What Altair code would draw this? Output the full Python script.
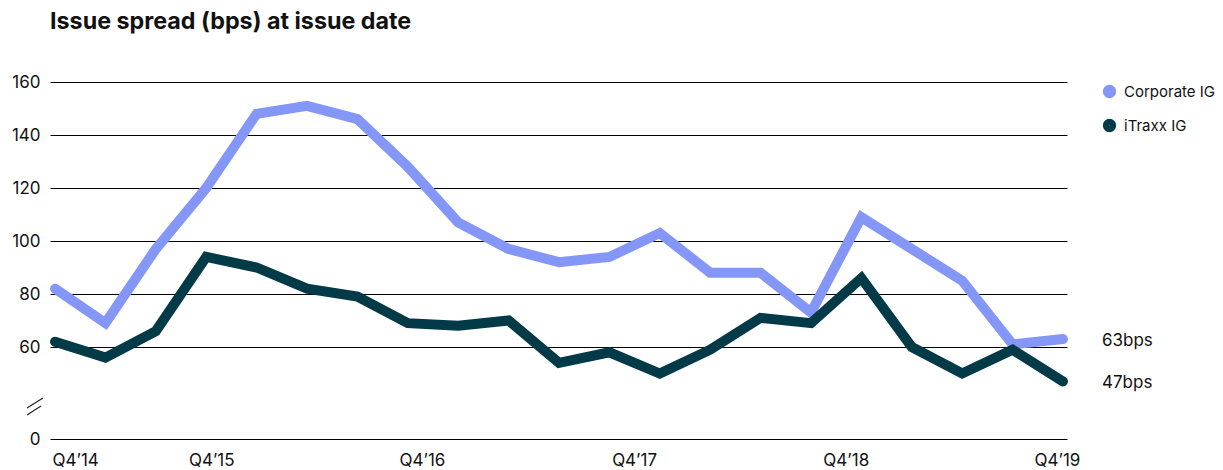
import json
import altair as alt
import pandas as pd

quarters = ["Q4’14", "Q1’15", "Q2’15", "Q3’15", "Q4’15", "Q1’16", "Q2’16", "Q3’16",
            "Q4’16", "Q1’17", "Q2’17", "Q3’17", "Q4’17", "Q1’18", "Q2’18", "Q3’18",
            "Q4’18", "Q1’19", "Q2’19", "Q3’19", "Q4’19"]
corporate_ig = [82, 69, 97, 120, 148, 151, 146, 128, 107, 97, 92, 94, 103, 88, 88, 73,
                109, 97, 85, 61, 63]
itraxx_ig = [62, 56, 66, 94, 90, 82, 79, 69, 68, 70, 54, 58, 50, 59, 71, 69,
             86, 60, 50, 59, 47]
series_names = ["Corporate IG", "iTraxx IG"]
x_tick_labels = ["Q4’14", "Q4’15", "Q4’16", "Q4’17", "Q4’18", "Q4’19"]
y_tick_values = [0, 60, 80, 100, 120, 140, 160]
colors = ["#8497f6", "#023a48"]

rows = []
for i, q in enumerate(quarters):
    rows.append({"idx": i, "quarter": q, "series": series_names[0], "value": corporate_ig[i]})
    rows.append({"idx": i, "quarter": q, "series": series_names[1], "value": itraxx_ig[i]})
df = pd.DataFrame(rows)

W, H = 1017, 357
FONT = "Inter"

# label positions (in quarter-index units) as they sit in the original
x_label_pos = [0.4, 3.1, 7.28, 11.49, 15.69, 19.88]

x_enc = alt.X("idx:Q",
              scale=alt.Scale(domain=[-0.1, 20.08], nice=False, zero=False),
              axis=alt.Axis(values=x_label_pos, title=None, grid=False, domain=False,
                            ticks=False, labelPadding=13, labelFontSize=17,
                            labelColor="#111", labelFont=FONT,
                            labelExpr=json.dumps(x_tick_labels) + "[round(datum.value/4)]"))
# broken axis: 0..40 squeezed, 40..160 at full scale
y_scale = alt.Scale(domain=[0, 40, 160], range=[H, H - 39, 0], nice=False, zero=False)
y_enc = alt.Y("value:Q", scale=y_scale,
              axis=alt.Axis(values=y_tick_values, title=None, grid=True, gridColor="#000",
                            gridWidth=1, domain=False, ticks=False, labelPadding=10,
                            labelFontSize=17, labelColor="#111", labelFont=FONT))

color_enc = alt.Color("series:N",
                      scale=alt.Scale(domain=series_names, range=colors),
                      legend=alt.Legend(title=None, orient="none", legendX=1052, legendY=2,
                                        symbolType="circle", symbolSize=40,
                                        symbolStrokeWidth=7, labelFontSize=15,
                                        labelFont=FONT, labelColor="#111",
                                        rowPadding=-1, labelOffset=7))

lines = alt.Chart(df).mark_line(strokeWidth=10, strokeCap="round", strokeJoin="miter").encode(
    x=x_enc, y=y_enc, color=color_enc, order="idx:Q")

last = df[df["idx"] == len(quarters) - 1].copy()
last["label"] = last["value"].astype(str) + "bps"
end_labels = alt.Chart(last).mark_text(align="left", baseline="middle", dx=39, dy=2,
                                       fontSize=17, font=FONT, color="#111").encode(
    x=alt.X("idx:Q"), y=alt.Y("value:Q"), text="label:N")

brk_df = pd.DataFrame({"k": [0]})
break1 = alt.Chart(brk_df).mark_rule(color="#222", strokeWidth=1.2).encode(
    x=alt.value(-23), x2=alt.value(-7), y=alt.value(326), y2=alt.value(316))
break2 = alt.Chart(brk_df).mark_rule(color="#222", strokeWidth=1.2).encode(
    x=alt.value(-23), x2=alt.value(-9), y=alt.value(333), y2=alt.value(324))

chart = alt.layer(lines, end_labels, break1, break2).properties(
    width=W, height=H,
    title=alt.TitleParams("Issue spread (bps) at issue date", anchor="start", fontSize=23.3,
                          font=FONT, fontWeight="bold", color="#111", offset=39,
                          frame="group"),
    autosize=alt.AutoSizeParams(type="none"),
    padding={"left": 42, "top": 74, "right": 148, "bottom": 31},
).configure_view(stroke=None)

chart.save("out.html", embed_options={"renderer": "svg", "actions": False})
